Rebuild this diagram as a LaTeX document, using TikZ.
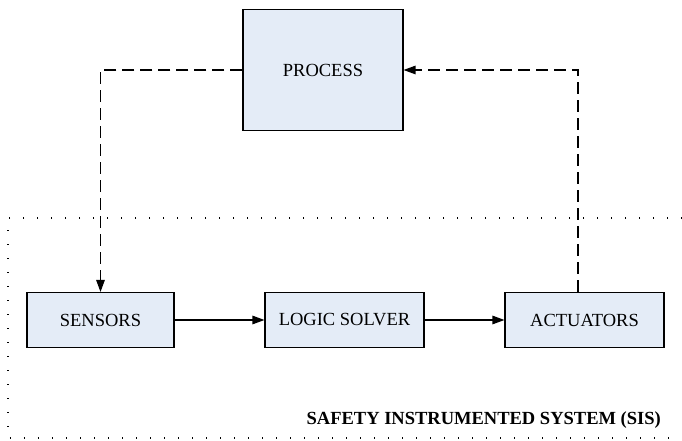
\documentclass[tikz,border=0pt]{standalone}
\usepackage{fontspec}
\setmainfont{Liberation Serif}
\usetikzlibrary{arrows.meta}
\definecolor{boxfill}{RGB}{228,236,247}
\tikzset{
  blk/.style={draw=black, line width=1.1pt, fill=boxfill, minimum width=#1, minimum height=55pt, inner sep=0pt, font=\fontsize{18.5}{22}\selectfont},
  flow/.style={line width=1.2pt, -{Triangle[length=12pt,width=8.5pt]}},
  dflow/.style={flow, dash pattern=on 12pt off 6pt},
  bound/.style={line width=1.3pt, dash pattern=on 1.3pt off 12.7pt, line cap=butt}
}
\begin{document}
\begin{tikzpicture}[x=1pt,y=-1pt]
\useasboundingbox (0,0) rectangle (682,441);
% boundary
\coordinate (bl) at (8,438);
\coordinate (tl) at (8,218);
\coordinate (tr) at (682,218);
\coordinate (br) at (682,438);
\draw[bound] (tr) -- (tl) -- (bl) -- (br);
% boxes
\node[blk=160pt, minimum height=121pt] (proc) at (323,70) {PROCESS};
\node[blk=147pt] (sens) at (100.5,320) {SENSORS};
\node[blk=159pt] (logic) at (344.5,320) {LOGIC SOLVER};
\node[blk=159pt] (act) at (584.5,320) {ACTUATORS};
% connectors
\draw[flow] (sens) -- (logic);
\draw[flow] (logic) -- (act);
\draw[dflow] (proc.west) -| (sens.north);
\draw[dflow] (act.north -| 578,0) |- (proc.east);
% label
\node[anchor=base east, font=\bfseries\fontsize{18.5}{22}\selectfont, inner sep=0pt] (sis) at (661,424) {SAFETY INSTRUMENTED SYSTEM (SIS)};
\end{tikzpicture}
\end{document}
